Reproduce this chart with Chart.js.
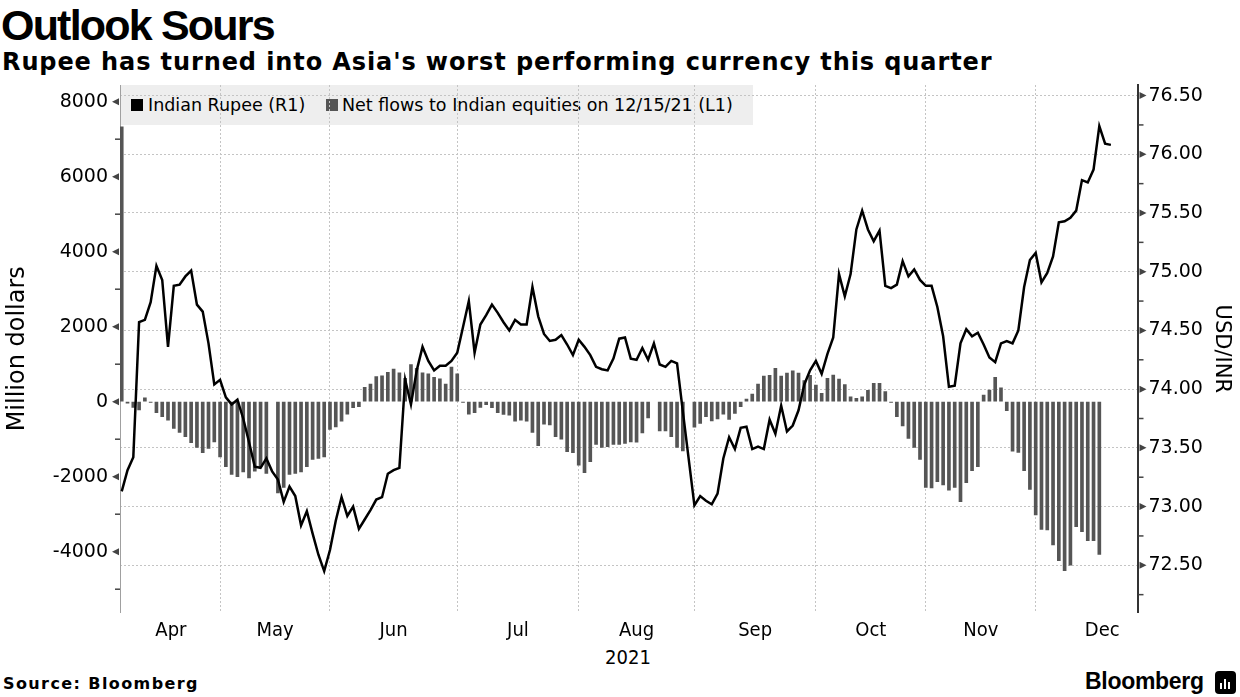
<!DOCTYPE html>
<html>
<head>
<meta charset="utf-8">
<script src="https://cdn.jsdelivr.net/npm/chart.js@4.4.0/dist/chart.umd.min.js"></script>
<style>
  body { margin: 0; background: #fff; }
  #wrap { position: relative; width: 1240px; height: 697px; overflow: hidden; }
  #box { position: absolute; left: 0; top: 0; width: 1240px; height: 697px; z-index: 2; }
  .t { position: absolute; white-space: nowrap; color: #000; }
  #title { left: 1px; top: 4px; font: bold 43px/43px 'Liberation Sans', Arial, sans-serif; letter-spacing: -1.8px; }
  #sub { left: 2px; top: 50px; font: bold 24px/24px 'DejaVu Sans', sans-serif; letter-spacing: 0.9px; }
  #legend { position: absolute; left: 121px; top: 85px; width: 632px; height: 40px; background: #eeeeee; z-index: 1; }
  #legend span { position: absolute; top: 12px; font: 17.5px/17.5px 'DejaVu Sans', sans-serif; white-space: nowrap; }
  #year { left: 598px; top: 645px; width: 60px; text-align: center; font: 20px/24px 'Liberation Sans Narrow', 'DejaVu Sans Condensed', 'Liberation Sans', sans-serif; }
  #src { left: 3px; top: 676px; font: bold 16px/16px 'DejaVu Sans', sans-serif; letter-spacing: 1.4px; }
  #logo { left: 1085px; top: 670px; font: bold 23px/23px 'Liberation Sans', Arial, sans-serif; letter-spacing: -0.3px; }
  #icon { position: absolute; left: 1215px; top: 671px; width: 21px; height: 23px; background: #000; border-radius: 4px; }
  #icon i { position: absolute; bottom: 5px; width: 2px; background: #fff; }
</style>
</head>
<body>
<div id="wrap">
  <div class="t" id="title">Outlook Sours</div>
  <div class="t" id="sub">Rupee has turned into Asia's worst performing currency this quarter</div>
  <div id="legend">
    <div style="position:absolute;left:10px;top:14px;width:12px;height:12px;background:#000"></div>
    <span style="left:27px">Indian Rupee (R1)</span>
    <div style="position:absolute;left:205px;top:14px;width:12px;height:12px;background:#555"></div>
    <span style="left:221px">Net flows to Indian equities on 12/15/21 (L1)</span>
  </div>
  <div class="t" id="year">2021</div>
  <div class="t" id="src">Source: Bloomberg</div>
  <div class="t" id="logo">Bloomberg</div>
  <div id="icon"><i style="left:5px;height:6px"></i><i style="left:9px;height:10px"></i><i style="left:13px;height:7px"></i></div>
  <div id="box"><canvas id="chart"></canvas></div>
</div>
<script>
// trading-day slots, spring 2021 to mid-December 2021
const flows = [
  7330, -40, -150, -220, 100, -20, -290, -400, -490, -710,
  -820, -930, -1090, -1220, -1360, -1245, -1070, -1470, -1730, -1940,
  -2000, -1870, -2030, -1850, -1730, -1910, null, -2430, -2285, -1940,
  -1910, -1870, -1730, -1540, -1510, -1470, -740, -670, -520, -330,
  -160, -130, 380, 470, 670, 690, 780, 870, 770, 620,
  990, 890, 770, 740, 650, 610, 470, 920, 740, -20,
  -330, -290, -150, -80, -160, -290, -340, -360, -520, -490,
  -520, -820, -1170, -600, -620, -930, -1000, -1330, -1360, -1690,
  -1890, -1600, -1140, -1220, -1200, -1140, -1140, -1110, -1070, -1080,
  -830, -430, null, -780, -780, -930, -1220, -1310, null, -680,
  -580, -400, -510, -460, -330, -470, -310, -130, 70, 200,
  470, 685, 705, 890, 685, 765, 820, 765, 560, 705,
  444, 222, 622, 711, 605, 458, 133, 89, 133, 300,
  489, 489, 267, -20, -400, -645, -978, -1218, -1538, -2285,
  -2302, -2133, -2222, -2356, -2285, -2667, -2160, -1840, -1733, 178,
  311, 649, 373, -240, -1316, -1351, -1840, -2338, -3022, -3405,
  -3422, -3822, -4240, -4507, -4356, -3333, -3467, -3707, -3707, -4071,
  null, null
];

const rupee = [
  73.13, 73.31, 73.42, 74.57, 74.59, 74.74, 75.05, 74.93, 74.36, 74.88,
  74.89, 74.96, 75.01, 74.72, 74.66, 74.39, 74.04, 74.08, 73.93, 73.87,
  73.91, 73.75, 73.55, 73.34, 73.33, 73.41, 73.30, 73.23, 73.04, 73.17,
  73.09, 72.84, 72.96, 72.77, 72.59, 72.45, 72.63, 72.88, 73.08, 72.92,
  73.00, 72.81, 72.89, 72.97, 73.06, 73.08, 73.28, 73.31, 73.33, 74.08,
  73.87, 74.16, 74.36, 74.24, 74.16, 74.20, 74.20, 74.24, 74.31, 74.53,
  74.75, 74.31, 74.55, 74.63, 74.72, 74.65, 74.57, 74.50, 74.59, 74.55,
  74.55, 74.87, 74.62, 74.47, 74.41, 74.42, 74.46, 74.38, 74.29, 74.42,
  74.36, 74.29, 74.19, 74.17, 74.16, 74.26, 74.43, 74.44, 74.26, 74.25,
  74.35, 74.25, 74.39, 74.21, 74.19, 74.24, 74.22, 73.81, 73.41, 73.01,
  73.09, 73.05, 73.02, 73.11, 73.41, 73.59, 73.49, 73.67, 73.68, 73.49,
  73.51, 73.49, 73.74, 73.62, 73.86, 73.64, 73.69, 73.82, 74.04, 74.16,
  74.24, 74.13, 74.30, 74.44, 74.98, 74.79, 74.98, 75.36, 75.52, 75.36,
  75.26, 75.35, 74.88, 74.86, 74.89, 75.09, 74.96, 75.02, 74.93, 74.88,
  74.88, 74.70, 74.45, 74.02, 74.03, 74.39, 74.51, 74.45, 74.48, 74.38,
  74.27, 74.23, 74.39, 74.41, 74.39, 74.50, 74.87, 75.10, 75.16, 74.91,
  74.99, 75.13, 75.42, 75.43, 75.46, 75.52, 75.78, 75.76, 75.87, 76.24,
  76.09, 76.08
];

// month boundaries (first trading day slot) and label positions
const monthStarts = [17, 36, 58, 79, 99, 120, 139, 158];
const monthNames = ['Apr', 'May', 'Jun', 'Jul', 'Aug', 'Sep', 'Oct', 'Nov', 'Dec'];
const monthMids = [8.5, 26.5, 47, 68.5, 89, 109.5, 129.5, 148.5, 169.5];

const flowTicks = [-5000, -4000, -3000, -2000, -1000, 0, 1000, 2000, 3000, 4000, 5000, 6000, 7000, 8000];
const rupeeTicks = [72.25, 72.5, 72.75, 73, 73.25, 73.5, 73.75, 74, 74.25, 74.5, 74.75, 75, 75.25, 75.5, 75.75, 76, 76.25, 76.5];

const isHalf = v => Math.abs(v * 2 - Math.round(v * 2)) < 1e-6;
const narrow = "'Liberation Sans Narrow', 'DejaVu Sans Condensed', 'Liberation Sans', sans-serif";

Chart.defaults.font.family = "'DejaVu Sans', sans-serif";
Chart.defaults.color = '#000';

// small arrow ticks on the value axes
const axisMarks = {
  id: 'axisMarks',
  afterDraw(chart) {
    const ctx = chart.ctx;
    [['yL', -1], ['yR', 1]].forEach(([id, dir]) => {
      const s = chart.scales[id];
      const x0 = dir < 0 ? s.right : s.left + 1;
      ctx.save();
      ctx.fillStyle = '#444';
      ctx.strokeStyle = '#444';
      ctx.lineWidth = 1.5;
      s.ticks.forEach(t => {
        const y = s.getPixelForValue(t.value);
        if (t.label !== '') {
          ctx.beginPath();
          ctx.moveTo(x0 + dir * 1, y - 3.5);
          ctx.lineTo(x0 + dir * 8, y);
          ctx.lineTo(x0 + dir * 1, y + 3.5);
          ctx.closePath();
          ctx.fill();
        } else {
          ctx.beginPath();
          ctx.moveTo(x0, y);
          ctx.lineTo(x0 + dir * 5, y);
          ctx.stroke();
        }
      });
      ctx.restore();
    });
  }
};

new Chart(document.getElementById('chart'), {
  data: {
    datasets: [
      {
        type: 'line',
        label: 'Indian Rupee (R1)',
        data: rupee.map((v, i) => ({ x: i, y: v })),
        yAxisID: 'yR',
        borderColor: '#000',
        borderWidth: 2.5,
        pointRadius: 0,
        tension: 0,
        order: 0
      },
      {
        type: 'bar',
        label: 'Net flows to Indian equities on 12/15/21 (L1)',
        data: flows.map((v, i) => ({ x: i, y: v })),
        yAxisID: 'yL',
        backgroundColor: '#555555',
        barThickness: 3,
        order: 1
      }
    ]
  },
  options: {
    responsive: true,
    maintainAspectRatio: false,
    animation: false,
    layout: { padding: { top: 85, left: 0, right: 0, bottom: 0 } },
    plugins: { legend: { display: false }, tooltip: { enabled: false } },
    scales: {
      x: {
        type: 'linear',
        offset: false,
        min: -0.3,
        max: 175.6,
        afterBuildTicks: s => {
          s.ticks = monthStarts.concat(monthMids).sort((a, b) => a - b).map(v => ({ value: v }));
        },
        afterFit: s => { s.height = 84.5; },
        grid: {
          offset: false,
          drawTicks: false,
          color: c => monthStarts.includes(c.tick && c.tick.value) ? '#c4c4c4' : 'rgba(0,0,0,0)',
          lineWidth: 1
        },
        border: { display: false, dash: [2, 2] },
        ticks: {
          autoSkip: false,
          maxRotation: 0,
          minRotation: 0,
          padding: 6,
          font: { family: narrow, size: 20 },
          callback: v => {
            const k = monthMids.indexOf(v);
            return k >= 0 ? monthNames[k] : '';
          }
        }
      },
      yL: {
        type: 'linear',
        position: 'left',
        min: -5621,
        max: 8445,
        afterBuildTicks: s => { s.ticks = flowTicks.map(v => ({ value: v })); },
        afterFit: s => { s.width = 120; },
        grid: { drawOnChartArea: false, drawTicks: false },
        border: { display: true, color: '#a0a0a0', width: 1 },
        ticks: {
          padding: 12,
          font: { size: 19 },
          callback: v => (v % 2000 === 0 ? String(v) : '')
        },
        title: { display: true, text: 'Million dollars', font: { size: 24 }, padding: { top: 3, bottom: 0 } }
      },
      yR: {
        type: 'linear',
        position: 'right',
        min: 72.098,
        max: 76.59,
        afterBuildTicks: s => { s.ticks = rupeeTicks.map(v => ({ value: v })); },
        afterFit: s => { s.width = 102.5; },
        grid: {
          drawTicks: false,
          color: c => (c.tick && isHalf(c.tick.value)) ? '#c4c4c4' : 'rgba(0,0,0,0)',
          lineWidth: 1
        },
        border: { display: true, color: '#333', width: 2, dash: [2, 2] },
        ticks: {
          padding: 11,
          font: { size: 19 },
          callback: v => (isHalf(v) ? v.toFixed(2) : '')
        },
        title: { display: true, text: 'USD/INR', font: { size: 21 }, padding: { top: 6, bottom: 0 } }
      }
    }
  },
  plugins: [axisMarks]
});
</script>
</body>
</html>
